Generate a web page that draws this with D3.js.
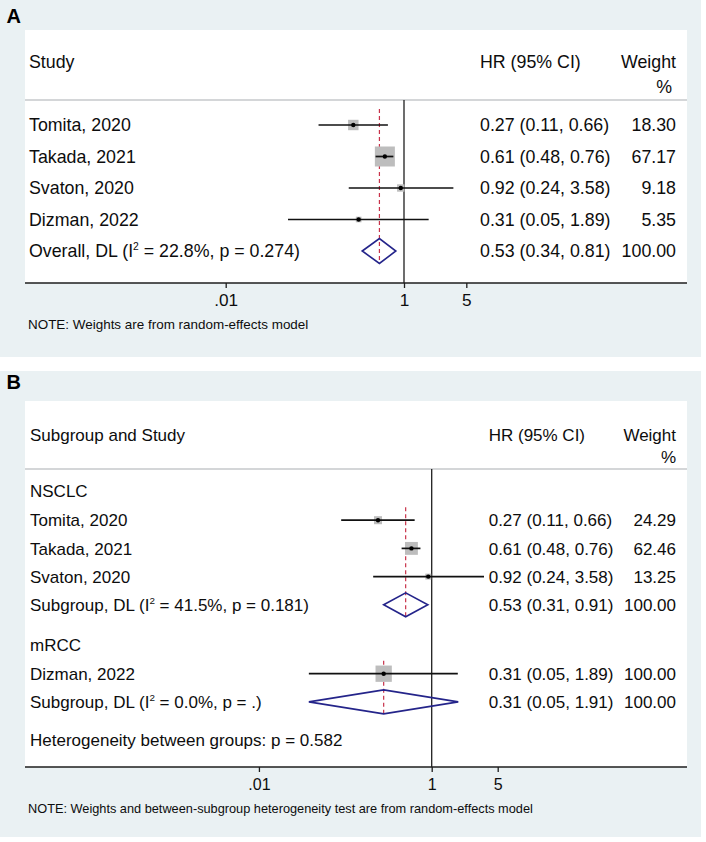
<!DOCTYPE html>
<html lang="en">
<head>
<meta charset="UTF-8">
<title>Forest plots A and B</title>
<script src="https://cdn.jsdelivr.net/npm/d3@7"></script>
<style>
  body { margin: 0; background: #fff; }
  text { font-family: "Liberation Sans", Arial, sans-serif; fill: #0d0d0d; }
</style>
</head>
<body>
<script>
"use strict";
// ---- Panel A data: all studies pooled ----
var studiesA = ["Tomita, 2020", "Takada, 2021", "Svaton, 2020", "Dizman, 2022"];
var hrA      = [0.27, 0.61, 0.92, 0.31];
var lowA     = [0.11, 0.48, 0.24, 0.05];
var highA    = [0.66, 0.76, 3.58, 1.89];
var weightA  = [18.30, 67.17, 9.18, 5.35];
var overallA = { label: "Overall, DL", i2: "22.8%", p: "0.274", hr: 0.53, low: 0.34, high: 0.81, weight: 100 };

// ---- Panel B data: by subgroup ----
var groupsB    = ["NSCLC", "mRCC"];
var studyGroupB = [0, 0, 0, 1];
var studiesB   = ["Tomita, 2020", "Takada, 2021", "Svaton, 2020", "Dizman, 2022"];
var hrB        = [0.27, 0.61, 0.92, 0.31];
var lowB       = [0.11, 0.48, 0.24, 0.05];
var highB      = [0.66, 0.76, 3.58, 1.89];
var weightB    = [24.29, 62.46, 13.25, 100.00];
var subHrB     = [0.53, 0.31];
var subLowB    = [0.31, 0.05];
var subHighB   = [0.91, 1.91];
var subI2B     = ["41.5%", "0.0%"];
var subPB      = ["0.181", "."];
var hetNoteB   = "Heterogeneity between groups: p = 0.582";

// axis ticks
var tickLabels = [".01", "1", "5"];
var tickValsA  = [0.01, 1, 5];
var tickValsB  = [0.0148, 1, 5];   // ".01" sits off its value in the original

var W = 706, H = 842;
var svg = d3.select("body").append("svg").attr("width", W).attr("height", H);
var fmt2 = d3.format(".2f");

function ciText(hr, lo, hi) {
  return fmt2(hr) + " (" + fmt2(lo) + ", " + fmt2(hi) + ")";
}

function drawPanel(cfg) {
  var g = svg.append("g");
  // grey-blue graph region
  g.append("rect").attr("x", 0).attr("y", cfg.top).attr("width", 701)
    .attr("height", cfg.bgBottom - cfg.top).attr("fill", "#eaf1f3");
  // white plot region
  g.append("rect").attr("x", 25).attr("y", cfg.innerTop).attr("width", 662)
    .attr("height", cfg.axisY - cfg.innerTop).attr("fill", "#fff");

  g.append("text").attr("x", 6.5).attr("y", cfg.letterY).text(cfg.letter)
    .style("font-weight", "bold").style("font-size", "20px").style("fill", "#000");

  var fs = cfg.fs + "px";
  // header
  g.append("text").attr("x", cfg.labelX).attr("y", cfg.headerY).attr("dy", "0.36em")
    .style("font-size", fs).text(cfg.header);
  g.append("text").attr("x", cfg.hrX).attr("y", cfg.headerY).attr("dy", "0.36em")
    .style("font-size", fs).text("HR (95% CI)");
  g.append("text").attr("x", cfg.wtRight).attr("y", cfg.headerY).attr("dy", "0.36em")
    .attr("text-anchor", "end").style("font-size", fs).text("Weight");
  g.append("text").attr("x", cfg.pctRight).attr("y", cfg.pctY).attr("dy", "0.36em")
    .attr("text-anchor", "end").style("font-size", fs).text("%");
  g.append("line").attr("x1", 25).attr("x2", 687).attr("y1", cfg.sepY).attr("y2", cfg.sepY)
    .attr("stroke", "#c6c9cb").attr("stroke-width", 1.5);

  var x = cfg.x;
  var box = d3.scaleSqrt().domain([0, cfg.boxMaxW]).range([0, cfg.boxMaxS]);
  var rows = cfg.rows;

  // null line at HR = 1
  g.append("line").attr("x1", x(1)).attr("x2", x(1)).attr("y1", cfg.sepY).attr("y2", cfg.axisY)
    .attr("stroke", "#1f1f1f").attr("stroke-width", 1.3);

  // dashed pooled-estimate lines
  rows.filter(function (r) { return r.type === "pooled"; }).forEach(function (r) {
    g.append("line").attr("x1", x(r.hr)).attr("x2", x(r.hr))
      .attr("y1", r.lineTop).attr("y2", r.y + cfg.dh)
      .attr("stroke", "#c8324a").attr("stroke-width", 1.2).attr("stroke-dasharray", "4,3");
  });

  rows.forEach(function (r) {
    if (r.type === "study") {
      var s = box(r.weight);
      g.append("rect").attr("x", x(r.hr) - s / 2).attr("y", r.y - s / 2)
        .attr("width", s).attr("height", s).attr("fill", "#bdbdbd");
      g.append("line").attr("x1", x(r.low)).attr("x2", x(r.high)).attr("y1", r.y).attr("y2", r.y)
        .attr("stroke", "#111").attr("stroke-width", 1.7);
      g.append("circle").attr("cx", x(r.hr)).attr("cy", r.y).attr("r", 2.2).attr("fill", "#000");
    }
    if (r.type === "pooled") {
      var pts = [[x(r.low), r.y], [x(r.hr), r.y - cfg.dh], [x(r.high), r.y], [x(r.hr), r.y + cfg.dh]];
      g.append("path").attr("d", d3.line()(pts) + "Z").attr("fill", "none")
        .attr("stroke", "#24248a").attr("stroke-width", 1.6);
    }
    // left-hand label
    var t = g.append("text").attr("x", cfg.labelX).attr("y", r.y).attr("dy", "0.36em")
      .style("font-size", fs);
    if (r.type === "pooled") {
      var up = cfg.fs * 0.42;
      t.append("tspan").text(r.label + " (I");
      t.append("tspan").attr("dy", -up).style("font-size", (cfg.fs * 0.58) + "px").text("2");
      t.append("tspan").attr("dy", up).text(" = " + r.i2 + ", p = " + r.p + ")");
    } else {
      t.text(r.label);
    }
    if (r.type === "study" || r.type === "pooled") {
      g.append("text").attr("x", cfg.hrX).attr("y", r.y).attr("dy", "0.36em")
        .style("font-size", fs).text(ciText(r.hr, r.low, r.high));
      g.append("text").attr("x", cfg.wtRight).attr("y", r.y).attr("dy", "0.36em")
        .attr("text-anchor", "end").style("font-size", fs).text(fmt2(r.weight));
    }
  });

  // x axis
  g.append("line").attr("x1", 25).attr("x2", 687).attr("y1", cfg.axisY).attr("y2", cfg.axisY)
    .attr("stroke", "#1e1e1e").attr("stroke-width", 1.5);
  var axis = d3.axisBottom(x).tickValues(cfg.ticks)
    .tickFormat(function (d, i) { return tickLabels[i]; })
    .tickSize(5).tickPadding(cfg.tickPad);
  var ax = g.append("g").attr("transform", "translate(0," + cfg.axisY + ")").call(axis);
  ax.select(".domain").remove();
  ax.selectAll(".tick line").attr("stroke", "#1e1e1e").attr("stroke-width", 1.3);
  ax.selectAll(".tick text").style("font-size", cfg.tickFs + "px")
    .style("font-family", "'Liberation Sans', Arial, sans-serif").style("fill", "#0d0d0d");

  g.append("text").attr("x", 28).attr("y", cfg.noteY).attr("dy", "0.36em")
    .style("font-size", cfg.noteFs + "px").text(cfg.note);
}

// ---- rows for panel A ----
var yA = d3.scaleLinear().domain([0, 4]).range([125, 251]);
var rowsA = studiesA.map(function (s, i) {
  return { type: "study", label: s, hr: hrA[i], low: lowA[i], high: highA[i], weight: weightA[i], y: yA(i) };
});
rowsA.push({ type: "pooled", label: overallA.label, i2: overallA.i2, p: overallA.p,
  hr: overallA.hr, low: overallA.low, high: overallA.high, weight: overallA.weight,
  y: yA(4), lineTop: yA(0) - 16 });

drawPanel({
  letter: "A", letterY: 23.3, top: 0, bgBottom: 357, innerTop: 30,
  header: "Study", headerY: 62, pctY: 87, sepY: 100, axisY: 283,
  labelX: 29, hrX: 480, wtRight: 676, pctRight: 672,
  fs: 17.8, tickFs: 17.2, tickPad: 6, noteFs: 13.45, noteY: 324,
  note: "NOTE: Weights are from random-effects model",
  x: d3.scaleLog().domain([0.01, 1]).range([225.7, 404]),
  ticks: tickValsA, boxMaxW: 67.17, boxMaxS: 20, dh: 12.5, rows: rowsA
});

// ---- rows for panel B ----
var rowsB = [];
var yCur = 492, step = 28.2;
groupsB.forEach(function (grp, gi) {
  if (gi > 0) yCur += 12.5;
  rowsB.push({ type: "group", label: grp, y: yCur - 1 });
  var first = null;
  studiesB.forEach(function (s, i) {
    if (studyGroupB[i] !== gi) return;
    yCur += step;
    if (first === null) first = yCur;
    rowsB.push({ type: "study", label: s, hr: hrB[i], low: lowB[i], high: highB[i], weight: weightB[i], y: yCur });
  });
  yCur += step;
  rowsB.push({ type: "pooled", label: "Subgroup, DL", i2: subI2B[gi], p: subPB[gi],
    hr: subHrB[gi], low: subLowB[gi], high: subHighB[gi], weight: 100, y: yCur, lineTop: first - 13 });
  yCur += step;
});
rowsB.push({ type: "note", label: hetNoteB, y: yCur + 10 });

drawPanel({
  letter: "B", letterY: 389.3, top: 371, bgBottom: 837, innerTop: 401,
  header: "Subgroup and Study", headerY: 435, pctY: 457, sepY: 469, axisY: 767,
  labelX: 30, hrX: 488.7, wtRight: 676, pctRight: 676,
  fs: 17.0, tickFs: 16, tickPad: 6.5, noteFs: 12.75, noteY: 808,
  note: "NOTE: Weights and between-subgroup heterogeneity test are from random-effects model",
  x: d3.scaleLog().domain([1, 5]).range([431.7, 497.7]),
  ticks: tickValsB, boxMaxW: 100, boxMaxS: 16.3, dh: 12, rows: rowsB
});
</script>
</body>
</html>
